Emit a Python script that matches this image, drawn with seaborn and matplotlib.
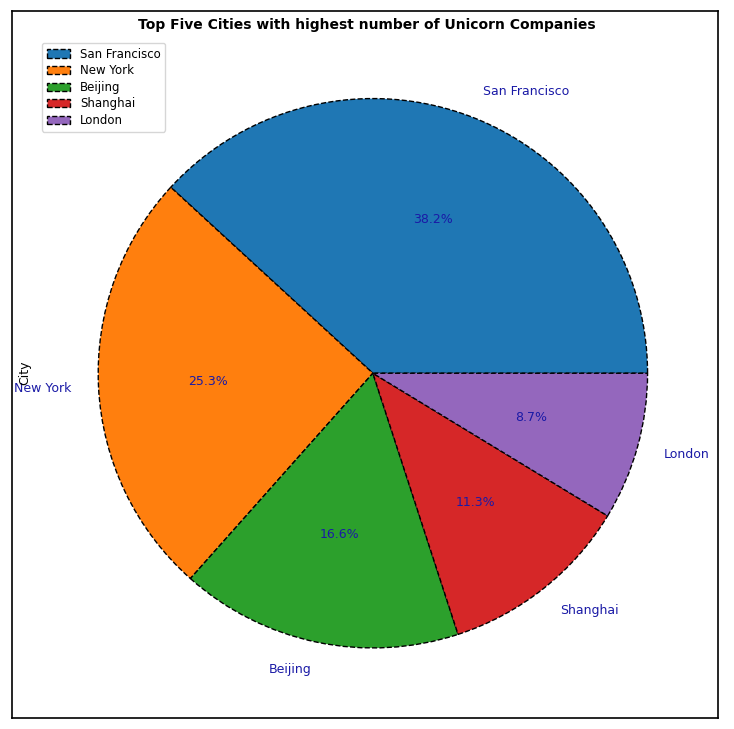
import matplotlib
matplotlib.use("Agg")
import matplotlib.pyplot as plt
import seaborn as sns

sns.set_theme(style="white")
plt.rcParams["font.family"] = ["DejaVu Sans"]
plt.rcParams["text.color"] = "black"

cities = ["San Francisco", "New York", "Beijing", "Shanghai", "London"]
shares = [38.2, 25.3, 16.6, 11.3, 8.7]
colors = sns.color_palette("tab10", 5)

fig = plt.figure(figsize=(7.34, 7.29), dpi=100)
# black frame around the drawing area
frame = fig.add_axes([12 / 734, 11 / 729, 706 / 734, 707 / 729])
frame.set_xticks([])
frame.set_yticks([])
for s in frame.spines.values():
    s.set_color("black")
    s.set_linewidth(1.2)

ax = fig.add_axes([0.040, 0.017, 0.936, 0.942])
wedges, texts, autotexts = ax.pie(
    shares,
    labels=cities,
    colors=colors,
    autopct="%1.1f%%",
    textprops={"color": "#1a1aa6", "fontsize": 9},
    wedgeprops={"edgecolor": "black", "linestyle": "--", "linewidth": 1},
)
ax.set_aspect("equal")
fig.text(25 / 734, 1 - 373 / 729, "City", rotation=90, ha="center", va="center",
         fontsize=9, color="black")

fig.text(0.5, 1 - 25 / 729, "Top Five Cities with highest number of Unicorn Companies",
         ha="center", va="center", fontsize=10, fontweight="bold", color="black")
fig.legend(wedges, cities, loc="upper left", bbox_to_anchor=(42 / 734, 1 - 43 / 729),
           fontsize=8.5, frameon=True, borderaxespad=0, handlelength=2,
           labelspacing=0.3, borderpad=0.4)

fig.savefig("out.png", dpi=100)
